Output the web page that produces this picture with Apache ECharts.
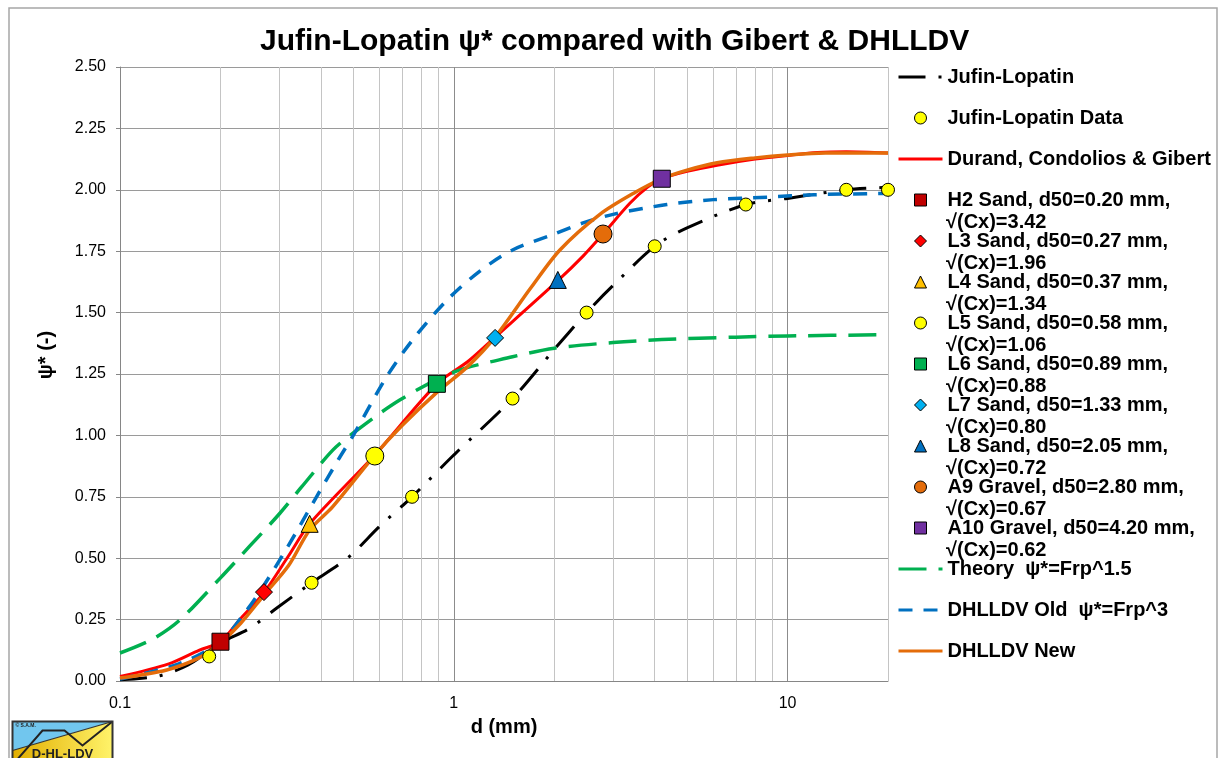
<!DOCTYPE html>
<html><head><meta charset="utf-8">
<script src="https://cdn.jsdelivr.net/npm/echarts@6/dist/echarts.min.js"></script>
<style>html,body{margin:0;padding:0;background:#fff}#c{width:1219px;height:758px}</style>
</head><body><div id="c"></div>
<script>
// ---- data ----
const yTickLabels = ['0.00','0.25','0.50','0.75','1.00','1.25','1.50','1.75','2.00','2.25','2.50'];
const xMinorGrid = [0.2,0.3,0.4,0.5,0.6,0.7,0.8,0.9,2,3,4,5,6,7,8,9,20];

const jufinLopatinLine = [[0.1,0.005],[0.13,0.02],[0.16,0.065],[0.2,0.155],[0.245,0.215],[0.295,0.297],[0.375,0.40],[0.48,0.50],[0.6,0.63],[0.75,0.75],[1,0.92],[1.5,1.15],[2,1.35],[2.5,1.50],[3,1.61],[4,1.77],[5,1.845],[7.5,1.94],[10,1.965],[15,2.0],[20,2.01]];
const jufinLopatinData = [[0.185,0.10],[0.375,0.40],[0.75,0.75],[1.5,1.15],[2.5,1.50],[4,1.77],[7.5,1.94],[15,2.0],[20,2.0]];
const durandLine = [[0.1,0.018],[0.14,0.07],[0.173,0.126],[0.2,0.16],[0.23,0.255],[0.27,0.36],[0.32,0.51],[0.37,0.64],[0.58,0.92],[0.89,1.21],[1.1,1.30],[1.33,1.40],[2.05,1.63],[2.44,1.73],[2.8,1.82],[3.37,1.945],[3.8,2.01],[4.2,2.045],[5,2.075],[6.15,2.10],[8,2.125],[10,2.14],[12.3,2.152],[15,2.155],[20,2.15]];
const theoryLine = [[0.1,0.114],[0.125,0.17],[0.151,0.248],[0.2,0.42],[0.245,0.55],[0.3,0.68],[0.35,0.79],[0.434,0.94],[0.5,1.01],[0.689,1.144],[1,1.258],[1.5,1.32],[2,1.355],[3,1.378],[4.2,1.39],[7,1.40],[10,1.405],[20,1.41]];
const dhlldvOldLine = [[0.1,0.008],[0.15,0.07],[0.2,0.16],[0.24,0.289],[0.27,0.39],[0.316,0.54],[0.388,0.75],[0.455,0.91],[0.5,1.0],[0.63,1.24],[0.754,1.39],[0.953,1.55],[1.2,1.67],[1.5,1.755],[2,1.82],[2.44,1.865],[3,1.90],[4.35,1.94],[6,1.96],[8.7,1.97],[12,1.98],[20,1.985]];
const dhlldvNewLine = [[0.1,0.012],[0.138,0.045],[0.173,0.095],[0.2,0.155],[0.23,0.235],[0.27,0.35],[0.32,0.47],[0.37,0.615],[0.434,0.71],[0.58,0.92],[0.7,1.04],[0.89,1.175],[1.1,1.28],[1.33,1.40],[1.7,1.60],[2.08,1.755],[2.74,1.90],[3.5,1.99],[4.2,2.045],[5,2.08],[6.15,2.11],[8,2.13],[10,2.142],[13,2.15],[20,2.15]];

const sandNames = ['H2 Sand, d50=0.20 mm,\n√(Cx)=3.42','L3 Sand, d50=0.27 mm,\n√(Cx)=1.96','L4 Sand, d50=0.37 mm,\n√(Cx)=1.34','L5 Sand, d50=0.58 mm,\n√(Cx)=1.06','L6 Sand, d50=0.89 mm,\n√(Cx)=0.88','L7 Sand, d50=1.33 mm,\n√(Cx)=0.80','L8 Sand, d50=2.05 mm,\n√(Cx)=0.72','A9 Gravel, d50=2.80 mm,\n√(Cx)=0.67','A10 Gravel, d50=4.20 mm,\n√(Cx)=0.62'];
const sandD50 = [0.20,0.27,0.37,0.58,0.89,1.33,2.05,2.80,4.20];
const sandPsi = [0.16,0.362,0.64,0.916,1.21,1.397,1.633,1.82,2.045];

// ---- styling ----
const FONT = '"Liberation Sans", Arial, sans-serif';
const SQ = 'path://M0,0L10,0L10,10L0,10Z';
const DI = 'path://M5,0L10,5L5,10L0,5Z';
const TR = 'path://M5,0L10,10L0,10Z';
const sandSymbols = [SQ, DI, TR, 'circle', SQ, DI, TR, 'circle', SQ];
const sandColors = ['#C00000','#FF0000','#FFC000','#FFFF00','#00B050','#00B0F0','#0070C0','#E46C0A','#7030A0'];
const sandSizes = [17,17,17,18,17,17,17,18,17];

const lineNames = ['Jufin-Lopatin','Durand, Condolios & Gibert','Theory  ψ*=Frp^1.5','DHLLDV Old  ψ*=Frp^3','DHLLDV New'];
const lineColors = ['#000000','#FF0000','#00B050','#0070C0','#E46C0A'];

const series = [];
series.push({name: lineNames[0], type:'line', data: jufinLopatinLine, symbol:'none', smooth:0.3, z:3,
  itemStyle:{color:lineColors[0]},
  lineStyle:{color:lineColors[0], width:3, type:[27,13,3,13]},
  markLine:{silent:true, symbol:'none', z:1, animation:false, label:{show:false},
    lineStyle:{color:'#c4c4c4', width:1, type:'solid'},
    data: xMinorGrid.map(v => ({xAxis: v}))}});
series.push({name:'Jufin-Lopatin Data', type:'scatter', data: jufinLopatinData, symbol:'circle', symbolSize:13, z:6,
  itemStyle:{color:'#FFFF00', borderColor:'#000', borderWidth:1, opacity:1}});
series.push({name: lineNames[1], type:'line', data: durandLine, symbol:'none', smooth:0.3, z:3,
  itemStyle:{color:lineColors[1]},
  lineStyle:{color:lineColors[1], width:3}});
sandNames.forEach((n,i) => {
  series.push({name:n, type:'scatter', data:[[sandD50[i], sandPsi[i]]], symbol:sandSymbols[i], symbolSize:sandSizes[i], z:6,
    itemStyle:{color:sandColors[i], borderColor:'#000', borderWidth:1, opacity:1}});
});
series.push({name: lineNames[2], type:'line', data: theoryLine, symbol:'none', smooth:0.3, z:3,
  itemStyle:{color:lineColors[2]},
  lineStyle:{color:lineColors[2], width:3.5, type:[28,12]}});
series.push({name: lineNames[3], type:'line', data: dhlldvOldLine, symbol:'none', smooth:0.3, z:3,
  itemStyle:{color:lineColors[3]},
  lineStyle:{color:lineColors[3], width:3.5, type:[14,11]}});
series.push({name: lineNames[4], type:'line', data: dhlldvNewLine, symbol:'none', smooth:0.3, z:4,
  itemStyle:{color:lineColors[4]},
  lineStyle:{color:lineColors[4], width:3.5}});

const legendOrder = [lineNames[0], 'Jufin-Lopatin Data', lineNames[1]].concat(sandNames, [lineNames[2], lineNames[3], lineNames[4]]);
const legendData = legendOrder.map(n => lineNames.indexOf(n) >= 0
  ? {name:n, itemStyle:{opacity:0, borderWidth:0}}
  : {name:n});

// layout of legend rows
const LEG_TOP = 66, LEG_ROW = 41, LEG_LEFT = 897;
const secondLines = [];
legendOrder.forEach((n,i) => {
  const parts = n.split('\n');
  if (parts.length > 1) {
    secondLines.push({type:'text', x:LEG_LEFT + 49, y:LEG_TOP + 11 + LEG_ROW*i + 22, silent:true, z:10,
      style:{text:parts[1], font:'bold 20px '+FONT, fill:'#000', verticalAlign:'middle', align:'left'}});
  }
});

const chart = echarts.init(document.getElementById('c'), null, {renderer:'canvas'});
chart.setOption({
  animation:false,
  backgroundColor:'#fff',
  textStyle:{fontFamily:FONT},
  title:{text:'Jufin-Lopatin ψ* compared with Gibert & DHLLDV', left:255, top:22,
    textStyle:{fontFamily:FONT, fontSize:30, fontWeight:'bold', color:'#000'}},
  grid:{left:120, right:331, top:67, bottom:77, containLabel:false},
  xAxis:{type:'log', logBase:10, min:0.1, max:20,
    name:'d (mm)', nameLocation:'middle', nameGap:36,
    nameTextStyle:{fontFamily:FONT, fontSize:20, fontWeight:'bold', color:'#000'},
    axisLine:{show:true, lineStyle:{color:'#868686', width:1}},
    axisTick:{show:false},
    axisLabel:{fontFamily:FONT, fontSize:16, color:'#000', margin:15, showMaxLabel:false,
      formatter: v => String(+(+v).toPrecision(3))},
    splitLine:{show:true, lineStyle:{color:'#8c8c8c', width:1}}},
  yAxis:{type:'value', min:0, max:2.5, interval:0.25,
    name:'ψ* (-)', nameLocation:'middle', nameGap:64, nameRotate:90,
    nameTextStyle:{fontFamily:FONT, fontSize:20, fontWeight:'bold', color:'#000', padding:[0,0,0,38]},
    axisLine:{show:true, lineStyle:{color:'#868686', width:1}},
    axisTick:{show:true, length:4, lineStyle:{color:'#868686'}},
    axisLabel:{fontFamily:FONT, fontSize:16, color:'#000', margin:14,
      formatter: (v) => yTickLabels[Math.round(v/0.25)]},
    splitLine:{show:true, lineStyle:{color:'#9a9a9a', width:1}}},
  legend:{orient:'vertical', left:LEG_LEFT, top:LEG_TOP, padding:0,
    itemWidth:44, itemHeight:12, itemGap:LEG_ROW-22, selectedMode:false,
    data: legendData,
    formatter: n => n.split('\n')[0],
    itemStyle:{borderWidth:1},
    lineStyle:{width:3},
    textStyle:{fontFamily:FONT, fontSize:20, fontWeight:'bold', color:'#000', lineHeight:22}},
  graphic:[
    {type:'rect', shape:{x:9, y:8, width:1208, height:780}, style:{fill:'none', stroke:'#a6a6a6', lineWidth:1.5}, z:-1, silent:true},
    {type:'group', left:10, top:719, silent:true, z:100, children:[
      {type:'polygon', shape:{points:[[0,0],[100,0],[0,29]]}, style:{fill:'#71C6EE'}},
      {type:'polygon', shape:{points:[[0,29],[100,0],[100,40],[0,40]]}, style:{fill:new echarts.graphic.LinearGradient(0,0,1,0,[{offset:0,color:'#E2AE00'},{offset:1,color:'#FFF36A'}])}},
      {type:'line', shape:{x1:0, y1:29, x2:100, y2:0}, style:{stroke:'#333', lineWidth:1.2}},
      {type:'polyline', shape:{points:[[3,40],[30,9],[52,9],[70,24],[100,0]]}, style:{stroke:'#222', lineWidth:2, fill:'none'}},
      {type:'text', x:3, y:2, style:{text:'© S.A.M.', font:'bold 5px '+FONT, fill:'#222'}},
      {type:'text', x:50, y:26, style:{text:'D-HL-LDV', font:'bold 13px '+FONT, fill:'#222', align:'center'}},
      {type:'rect', shape:{x:0, y:0, width:100, height:45}, style:{fill:'none', stroke:'#333', lineWidth:2}}
    ]}
  ].concat(secondLines),
  series: series
});
</script></body></html>
